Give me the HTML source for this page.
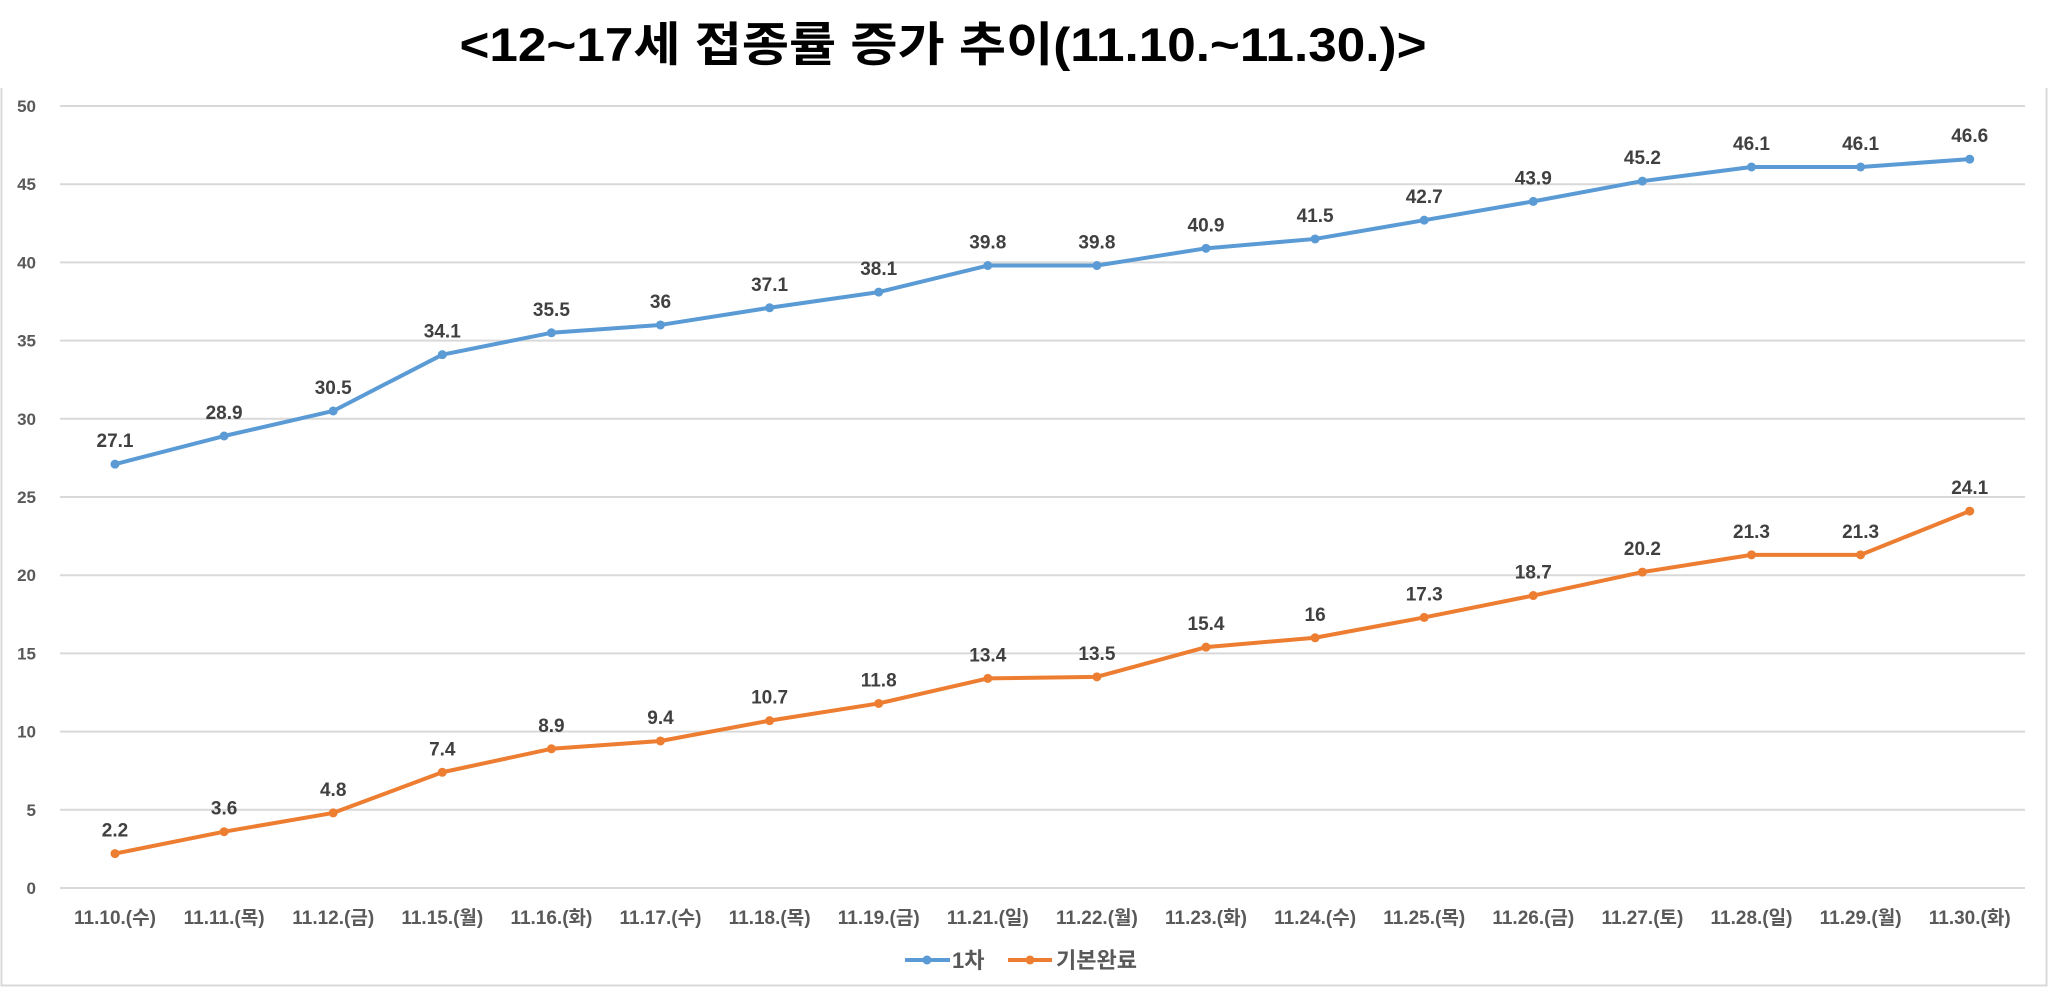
<!DOCTYPE html>
<html><head><meta charset="utf-8"><style>
html,body{margin:0;padding:0;background:#fff;}
svg{display:block;}
text{font-family:"Liberation Sans","Noto Sans CJK KR",sans-serif;}
</style></head><body>
<svg width="2048" height="987" xmlns="http://www.w3.org/2000/svg">
<rect x="0" y="0" width="2048" height="987" fill="#fff"/>
<path d="M1.5 88 V985.5 H2046.5 V88" fill="none" stroke="#d9d9d9" stroke-width="2"/>
<text x="943" y="61" text-anchor="middle" font-size="47" font-weight="bold" fill="#000" textLength="967" lengthAdjust="spacingAndGlyphs">&lt;12~17세 접종률 증가 추이(11.10.~11.30.)&gt;</text>
<g id="grid" stroke="#d9d9d9" stroke-width="2"></g>
<g id="ylab" font-size="17" font-weight="bold" fill="#595959" text-anchor="end"></g>
<g id="xlab" font-size="19" font-weight="bold" fill="#595959" text-anchor="middle"></g>
<g id="series"></g>
<g font-size="22" font-weight="bold" fill="#595959">
<line x1="905" y1="960" x2="950" y2="960" stroke="#5b9bd5" stroke-width="4"/>
<circle cx="927" cy="960" r="4.5" fill="#5b9bd5"/>
<text x="952" y="968">1차</text>
<line x1="1008" y1="960" x2="1052" y2="960" stroke="#ed7d31" stroke-width="4"/>
<circle cx="1030" cy="960" r="4.5" fill="#ed7d31"/>
<text x="1056" y="968">기본완료</text>
</g>
</svg>
<script>
var ns="http://www.w3.org/2000/svg";
function el(t,a,p,txt){var e=document.createElementNS(ns,t);for(var k in a)e.setAttribute(k,a[k]);if(txt!=null)e.textContent=txt;document.getElementById(p).appendChild(e);return e;}
function Y(v){return 888-v*15.64;}
function X(i){return 115+i*109.1;}
for(var v=0;v<=50;v+=5){el('line',{x1:60,x2:2025,y1:Y(v),y2:Y(v)},'grid');el('text',{x:36,y:Y(v)+6},'ylab',v);}
var d=["11.10.(수)","11.11.(목)","11.12.(금)","11.15.(월)","11.16.(화)","11.17.(수)","11.18.(목)","11.19.(금)","11.21.(일)","11.22.(월)","11.23.(화)","11.24.(수)","11.25.(목)","11.26.(금)","11.27.(토)","11.28.(일)","11.29.(월)","11.30.(화)"];
d.forEach(function(s,i){el('text',{x:X(i),y:924},'xlab',s);});
var a=[27.1,28.9,30.5,34.1,35.5,36,37.1,38.1,39.8,39.8,40.9,41.5,42.7,43.9,45.2,46.1,46.1,46.6];
var b=[2.2,3.6,4.8,7.4,8.9,9.4,10.7,11.8,13.4,13.5,15.4,16,17.3,18.7,20.2,21.3,21.3,24.1];
[[a,"#5b9bd5"],[b,"#ed7d31"]].forEach(function(p){
 var pts=p[0].map(function(v,i){return X(i)+","+Y(v);}).join(" ");
 el('polyline',{points:pts,fill:"none",stroke:p[1],"stroke-width":4,"stroke-linejoin":"round"},'series');
 p[0].forEach(function(v,i){el('circle',{cx:X(i),cy:Y(v),r:4.5,fill:p[1]},'series');
  el('text',{x:X(i),y:Y(v)-17,"text-anchor":"middle","font-size":19,"font-weight":"bold",fill:"#404040"},'series',v);});
});
</script>
</body></html>
